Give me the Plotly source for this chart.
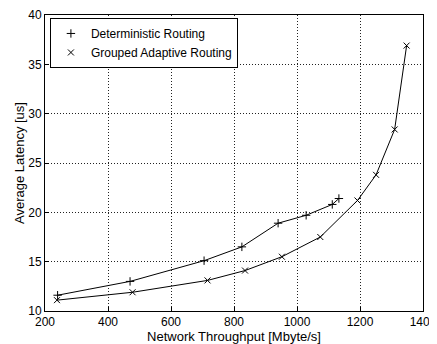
import plotly.graph_objects as go

det_x = [240, 470, 705, 825, 940, 1029, 1112, 1133]
det_y = [11.6, 13.0, 15.1, 16.5, 18.9, 19.7, 20.8, 21.4]
gar_x = [238, 478, 716, 835, 952, 1074, 1192, 1251, 1310, 1348]
gar_y = [11.1, 11.9, 13.1, 14.1, 15.5, 17.5, 21.2, 23.8, 28.4, 36.9]

x_ticks = [200, 400, 600, 800, 1000, 1200, 1400]
y_ticks = [10, 15, 20, 25, 30, 35, 40]

fig = go.Figure()
font = "Liberation Sans, Arial, sans-serif"

for xs, ys, name, sym in [(det_x, det_y, "Deterministic Routing", "cross-thin"),
                          (gar_x, gar_y, "Grouped Adaptive Routing", "x-thin")]:
    fig.add_trace(go.Scatter(x=xs, y=ys, mode="lines", line=dict(color="black", width=1),
                             showlegend=False, hoverinfo="skip"))
    fig.add_trace(go.Scatter(x=xs, y=ys, mode="markers", name=name,
                             marker=dict(symbol=sym, size=6, color="black",
                                         line=dict(color="black", width=1))))

axis_common = dict(showline=True, linecolor="black", linewidth=1, mirror=True,
                   showgrid=True, gridcolor="#222", griddash="1px,2px", gridwidth=1,
                   ticks="inside", ticklen=4, tickcolor="black", zeroline=False,
                   automargin=False,
                   tickfont=dict(family=font, size=12, color="black"))

fig.update_layout(
    width=437, height=344,
    margin=dict(l=37, r=22, t=7, b=41),
    paper_bgcolor="white", plot_bgcolor="white",
    xaxis=dict(range=[200, 1400], tickvals=x_ticks,
               title=dict(text="Network Throughput [Mbyte/s]", standoff=3,
                          font=dict(family=font, size=13, color="black")),
               **axis_common),
    yaxis=dict(range=[10, 40], tickvals=y_ticks,
               title=dict(text="Average Latency [us]", standoff=0,
                          font=dict(family=font, size=13, color="black")),
               **axis_common),
    legend=dict(x=0.013, y=0.99, xanchor="left", yanchor="top",
                bgcolor="white", bordercolor="black", borderwidth=1,
                font=dict(family=font, size=12, color="black"),
                tracegroupgap=0, itemwidth=30),
)

fig.write_html("out.html")
